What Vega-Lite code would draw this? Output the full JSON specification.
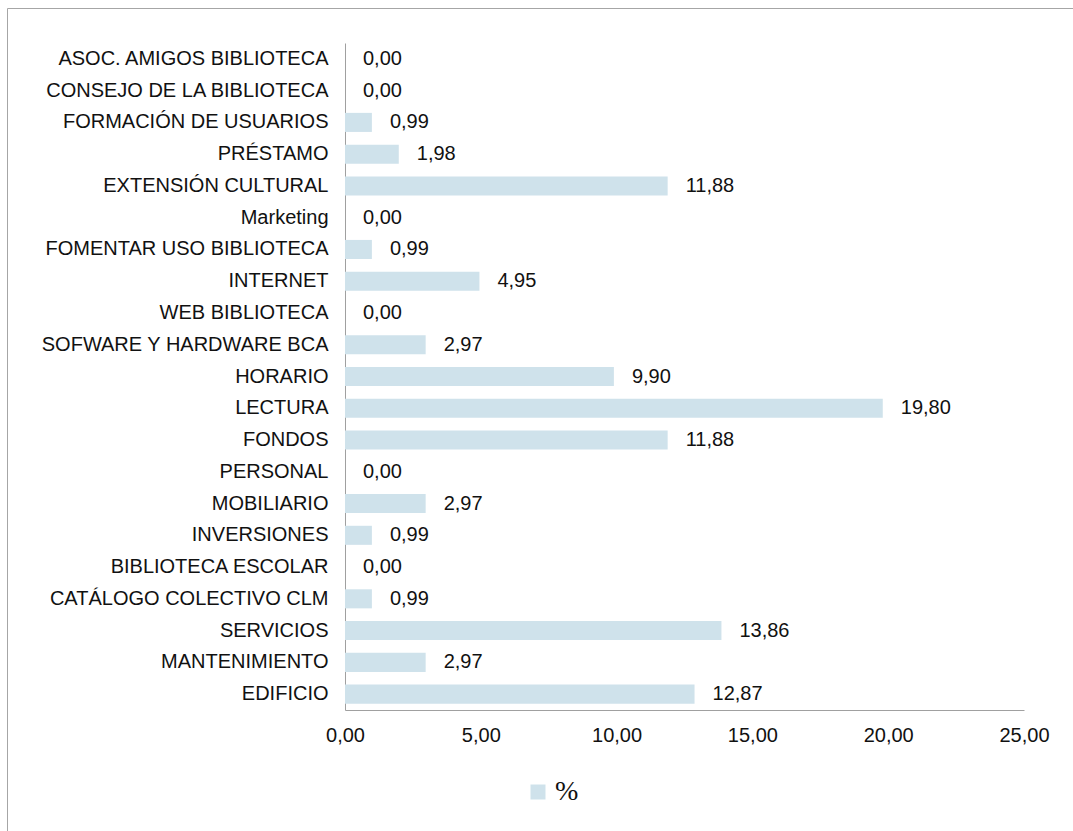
{
  "$schema": "https://vega.github.io/schema/vega-lite/v6.json",
  "width": 1066,
  "height": 823,
  "autosize": {"type": "none"},
  "padding": {"left": 7, "top": 8, "right": 0, "bottom": 0},
  "background": "white",
  "config": {
    "locale": {"number": {"decimal": ",", "thousands": ".", "grouping": [3], "currency": ["", " €"]}},
    "view": {"stroke": "#a6a6a6", "strokeWidth": 1},
    "font": "Liberation Sans"
  },
  "data": {
    "values": [
      {"categoria": "ASOC. AMIGOS BIBLIOTECA", "valor": 0, "serie": "%"},
      {"categoria": "CONSEJO DE LA BIBLIOTECA", "valor": 0, "serie": "%"},
      {"categoria": "FORMACIÓN DE USUARIOS", "valor": 0.99, "serie": "%"},
      {"categoria": "PRÉSTAMO", "valor": 1.98, "serie": "%"},
      {"categoria": "EXTENSIÓN CULTURAL", "valor": 11.88, "serie": "%"},
      {"categoria": "Marketing", "valor": 0, "serie": "%"},
      {"categoria": "FOMENTAR USO BIBLIOTECA", "valor": 0.99, "serie": "%"},
      {"categoria": "INTERNET", "valor": 4.95, "serie": "%"},
      {"categoria": "WEB BIBLIOTECA", "valor": 0, "serie": "%"},
      {"categoria": "SOFWARE Y HARDWARE BCA", "valor": 2.97, "serie": "%"},
      {"categoria": "HORARIO", "valor": 9.9, "serie": "%"},
      {"categoria": "LECTURA", "valor": 19.8, "serie": "%"},
      {"categoria": "FONDOS", "valor": 11.88, "serie": "%"},
      {"categoria": "PERSONAL", "valor": 0, "serie": "%"},
      {"categoria": "MOBILIARIO", "valor": 2.97, "serie": "%"},
      {"categoria": "INVERSIONES", "valor": 0.99, "serie": "%"},
      {"categoria": "BIBLIOTECA ESCOLAR", "valor": 0, "serie": "%"},
      {"categoria": "CATÁLOGO COLECTIVO CLM", "valor": 0.99, "serie": "%"},
      {"categoria": "SERVICIOS", "valor": 13.86, "serie": "%"},
      {"categoria": "MANTENIMIENTO", "valor": 2.97, "serie": "%"},
      {"categoria": "EDIFICIO", "valor": 12.87, "serie": "%"}
    ]
  },
  "encoding": {
    "y": {
      "field": "categoria",
      "type": "nominal",
      "sort": null,
      "scale": {"range": [35, 702], "paddingInner": 0.4, "paddingOuter": 0.2},
      "axis": {
        "title": null,
        "orient": "left",
        "offset": -338,
        "domainColor": "#a0a0a0",
        "domainWidth": 1,
        "ticks": false,
        "labelPadding": 17,
        "labelFontSize": 20,
        "labelLimit": 0,
        "labelColor": "#111111",
        "labelFont": "Liberation Sans"
      }
    },
    "x": {
      "field": "valor",
      "type": "quantitative",
      "scale": {"domain": [0, 25], "range": [338, 1017], "nice": false, "zero": true},
      "axis": {
        "title": null,
        "orient": "bottom",
        "offset": -121,
        "values": [0, 5, 10, 15, 20, 25],
        "format": ".2f",
        "grid": false,
        "ticks": false,
        "domainColor": "#a0a0a0",
        "domainWidth": 1,
        "labelPadding": 15,
        "labelFontSize": 20,
        "labelColor": "#111111",
        "labelFont": "Liberation Sans",
        "labelFlush": false
      }
    }
  },
  "layer": [
    {
      "mark": {"type": "bar"},
      "encoding": {
        "color": {
          "field": "serie",
          "type": "nominal",
          "scale": {"range": ["#cfe2eb"]},
          "legend": {
            "title": null,
            "orient": "none",
            "legendX": 517,
            "legendY": 770,
            "symbolType": "square",
            "symbolSize": 225,
            "symbolStrokeWidth": 0,
            "labelFont": "Liberation Serif",
            "labelFontSize": 28,
            "labelColor": "#111111",
            "labelOffset": 3,
            "padding": 0
          }
        }
      }
    },
    {
      "mark": {"type": "text", "align": "left", "baseline": "middle", "dx": 18, "fontSize": 20, "font": "Liberation Sans", "color": "#111111"},
      "encoding": {
        "text": {"field": "valor", "type": "quantitative", "format": ".2f"}
      }
    }
  ]
}
